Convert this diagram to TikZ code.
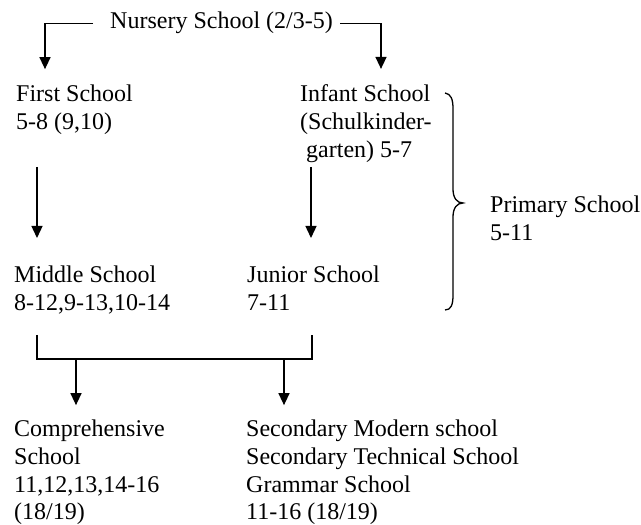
\documentclass[tikz,border=0pt]{standalone}
\usepackage{fontspec}
\setmainfont{Liberation Serif}
\usepackage{tikz}
\usetikzlibrary{arrows.meta}

\tikzset{
  lbl/.style={anchor=base west, inner sep=0pt, align=left,
    font=\fontsize{24}{27.6}\selectfont},
  arr/.style={line width=1.4pt, -{Triangle[width=11pt,length=12pt]}},
  ln/.style={line width=1.4pt}
}

\begin{document}
\begin{tikzpicture}[x=1pt,y=1pt]
                \useasboundingbox (0,0) rectangle (641,525);
                % school names (placed at the baseline of their last line)
                \node[lbl] (nursery) at (110,496) {Nursery School (2/3-5)};
                \node[lbl] (first) at (16,395.4) {First School\\5-8 (9,10)};
                \node[lbl] (infant) at (300,367.8) {Infant School\\(Schulkinder-\\\hspace{6pt}garten) 5-7};
                \node[lbl] (middle) at (14,214.4) {Middle School\\8-12,9-13,10-14};
                \node[lbl] (junior) at (247,214.4) {Junior School\\7-11};
                \node[lbl] (primary) at (490,284.4) {Primary School\\5-11};
                \node[lbl] (compr) at (14,5.2) {Comprehensive\\School\\11,12,13,14-16\\(18/19)};
                \node[lbl] (second) at (246,5.2) {Secondary Modern school\\Secondary Technical School\\Grammar School\\11-16 (18/19)};
                % connectors
                \coordinate (join) at (174,166);
                \draw[arr] ([xshift=-17pt]nursery.west) -| ([xshift=29pt,yshift=16pt]first.north west);
                \draw[arr] ([xshift=7pt]nursery.east) -| ([xshift=81pt,yshift=16pt]infant.north west);
                \draw[arr] (37,358) -- (37,287);
                \draw[arr] (311,358) -- (311,287);
                \draw[ln] (37,190) |- (join) -| (312,190);
                \draw[arr] (join -| 76,0) -- ([yshift=15pt]compr.north west -| 76,0);
                \draw[arr] (join -| 284,0) -- ([yshift=15pt]second.north west -| 284,0);
                % brace
                \draw[line width=1.3pt] (445,432) .. controls (451,431) and (453,426) .. (453,416)
                    -- (453,336) .. controls (453,327) and (457,322) .. (463,322)
                    .. controls (457,322) and (453,317) .. (453,308)
                    -- (453,230) .. controls (453,220) and (451,215) .. (445,215);
            \end{tikzpicture}
\end{document}
